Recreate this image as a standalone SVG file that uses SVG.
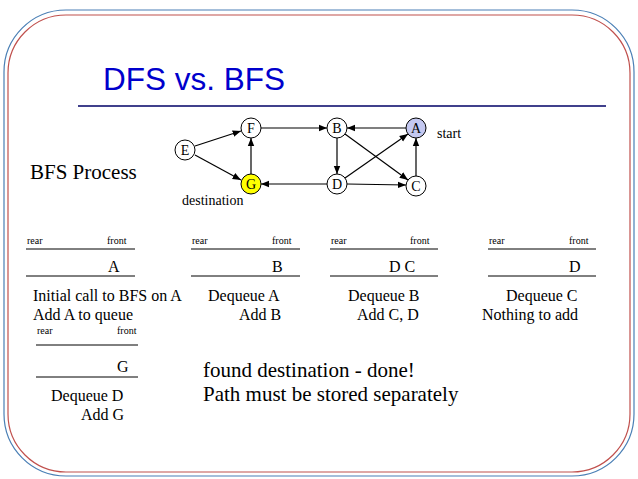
<svg xmlns="http://www.w3.org/2000/svg" width="638" height="479" viewBox="0 0 638 479">
<style>
.t{font-family:"Liberation Serif",serif;fill:#000}
.s{font-size:10px}
.m{font-size:16px}
.k{font-size:14px}
.l{font-size:21px}
.n{fill:#fff;stroke:#000;stroke-width:1}
.e{stroke:#000;stroke-width:1.2;fill:none;marker-end:url(#ah)}
.q{stroke:#000;stroke-width:1}
</style>
<defs><marker id="ah" viewBox="0 0 10 10" refX="10" refY="5" markerWidth="7" markerHeight="7" orient="auto"><path d="M0,1L10,5L0,9z" fill="#000"/></marker></defs>
<rect width="638" height="479" fill="#fff"/>
<rect x="4" y="10" width="630" height="466" rx="62" fill="none" stroke="#4a7fb5" stroke-width="1.2"/>
<rect x="8" y="15" width="622" height="457" rx="58" fill="none" stroke="#c0504d" stroke-width="1.2"/>
<text x="103" y="90" font-family="Liberation Sans,sans-serif" font-size="31.5" fill="#0000cc">DFS vs. BFS</text>
<line x1="78" y1="106" x2="606" y2="106" stroke="#000066" stroke-width="1.5"/>
<g id="connectors">
<line class="e" x1="195" y1="146" x2="241" y2="131"/>
<line class="e" x1="195" y1="155" x2="241" y2="180"/>
<line class="e" x1="261" y1="128" x2="327" y2="128"/>
<line class="e" x1="251" y1="174" x2="251" y2="138"/>
<line class="e" x1="406" y1="128" x2="347" y2="128"/>
<line class="e" x1="337" y1="138" x2="337" y2="174"/>
<line class="e" x1="345" y1="134" x2="408" y2="180"/>
<line class="e" x1="345" y1="178" x2="408" y2="134"/>
<line class="e" x1="327" y1="184" x2="261" y2="184"/>
<line class="e" x1="347" y1="184" x2="406" y2="185"/>
<line class="e" x1="416" y1="176" x2="416" y2="138"/>
</g>
<g id="E"><circle class="n" cx="185" cy="150" r="10"/><text class="t k" x="185" y="155" text-anchor="middle">E</text></g>
<g id="F"><circle class="n" cx="251" cy="128" r="10"/><text class="t k" x="251" y="133" text-anchor="middle">F</text></g>
<g id="B"><circle class="n" cx="337" cy="128" r="10"/><text class="t k" x="337" y="133" text-anchor="middle">B</text></g>
<g id="A"><circle class="n" cx="416" cy="128" r="10" style="fill:#c4c8f0"/><text class="t k" x="416" y="133" text-anchor="middle">A</text></g>
<g id="G"><circle class="n" cx="251" cy="184" r="10" style="fill:#ffff00"/><text class="t k" x="251" y="189" text-anchor="middle">G</text></g>
<g id="D"><circle class="n" cx="337" cy="184" r="10"/><text class="t k" x="337" y="189" text-anchor="middle">D</text></g>
<g id="C"><circle class="n" cx="416" cy="186" r="10"/><text class="t k" x="416" y="191" text-anchor="middle">C</text></g>
<text class="t k" x="437" y="138">start</text>
<text class="t k" x="182" y="205">destination</text>
<text class="t l" x="30" y="179">BFS Process</text>
<g id="q1"><text class="t s" x="27" y="244">rear</text><text class="t s" x="107" y="244">front</text><line class="q" x1="26" y1="249" x2="135" y2="249"/><line class="q" x1="26" y1="276" x2="135" y2="276"/><text class="t m" x="108" y="272">A</text></g>
<g id="q2"><text class="t s" x="192" y="244">rear</text><text class="t s" x="272" y="244">front</text><line class="q" x1="191" y1="249" x2="300" y2="249"/><line class="q" x1="191" y1="276" x2="300" y2="276"/><text class="t m" x="272" y="272">B</text></g>
<g id="q3"><text class="t s" x="331" y="244">rear</text><text class="t s" x="410" y="244">front</text><line class="q" x1="330" y1="249" x2="438" y2="249"/><line class="q" x1="330" y1="276" x2="438" y2="276"/><text class="t m" x="389" y="272">D  C</text></g>
<g id="q4"><text class="t s" x="489" y="244">rear</text><text class="t s" x="569" y="244">front</text><line class="q" x1="488" y1="249" x2="596" y2="249"/><line class="q" x1="488" y1="276" x2="596" y2="276"/><text class="t m" x="569" y="272">D</text></g>
<g id="q5"><text class="t s" x="37" y="334">rear</text><text class="t s" x="117" y="334">front</text><line class="q" x1="36" y1="345" x2="138" y2="345"/><line class="q" x1="36" y1="377" x2="138" y2="377"/><text class="t m" x="117" y="372">G</text></g>
<text class="t m" x="33" y="301">Initial call to BFS on A</text>
<text class="t m" x="33" y="320">Add A to queue</text>
<text class="t m" x="208" y="301">Dequeue A</text>
<text class="t m" x="239" y="320">Add B</text>
<text class="t m" x="348" y="301">Dequeue B</text>
<text class="t m" x="357" y="320">Add C, D</text>
<text class="t m" x="506" y="301">Dequeue C</text>
<text class="t m" x="482" y="320">Nothing to add</text>
<text class="t m" x="51" y="401">Dequeue D</text>
<text class="t m" x="81" y="420">Add G</text>
<text class="t l" x="203" y="377">found destination - done!</text>
<text class="t l" x="203" y="401">Path must be stored separately</text>
</svg>
